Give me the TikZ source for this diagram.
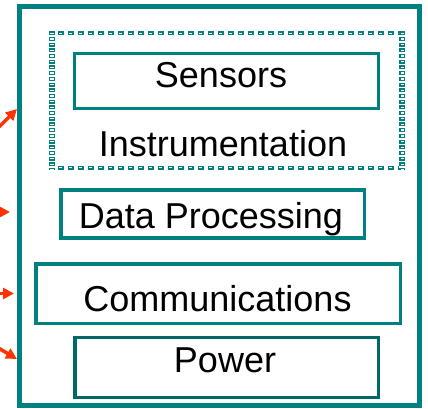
\documentclass[tikz,border=0pt]{standalone}
\usepackage{fontspec}
\setmainfont{Liberation Sans}
\usetikzlibrary{arrows.meta}
\definecolor{tealc}{HTML}{008080}
\definecolor{tealdark}{HTML}{006868}
\definecolor{arrowred}{HTML}{FF3300}
\begin{document}
\begin{tikzpicture}[x=1pt,y=-1pt,
  box/.style={draw=tealc, line width=3.3pt, inner sep=0pt},
  lbl/.style={inner sep=0pt, anchor=base, font=\fontsize{36}{40}\selectfont},
  feed/.style={draw=arrowred, line width=3.5pt, -{Triangle[length=11pt,width=11pt]}},
  hdashout/.style={draw=tealc, line width=4pt, dash pattern=on 6pt off 4pt},
  hdashin/.style={draw=white, line width=1.4pt, dash pattern=on 3.4pt off 6.6pt},
  vdashout/.style={draw=tealc, line width=6pt, dash pattern=on 4pt off 1.7pt},
  vdashin/.style={draw=white, line width=3.4pt, dash pattern=on 1.4pt off 4.3pt}]
\useasboundingbox (0,0) rectangle (428,409);
% outer frame
\node[draw=tealc, line width=5pt, minimum width=400pt, minimum height=399.2pt, inner sep=0pt] (outer) at (219.5,205.9) {};
% instrumentation group (dotted frame)
\node[inner sep=0pt, minimum width=350pt, minimum height=134pt] (instr) at (227,100.4) {};
\draw[vdashout] (52,31.3) -- (52,170);
\draw[vdashin] (52,32.6) -- (52,170);
\draw[vdashout] (402.3,31.3) -- (402.3,170);
\draw[vdashin] (402.3,32.6) -- (402.3,170);
\draw[hdashout] (57.7,33.3) -- (399,33.3);
\draw[hdashin] (59,33.3) -- (399,33.3);
\draw[hdashout] (57.7,167.5) -- (399,167.5);
\draw[hdashin] (59,167.5) -- (399,167.5);
% boxes
\node[box, minimum width=304pt, minimum height=55pt] (sensors) at (226.5,81) {};
\node[box, minimum width=303.5pt, minimum height=48pt] (dataproc) at (212.75,214) {};
\node[box, minimum width=364.5pt, minimum height=59.5pt] (comms) at (218.25,293.75) {};
\node[box, draw=tealdark, minimum width=303.5pt, minimum height=59.5pt] (power) at (226.75,367.5) {};
% labels
\node[lbl] (tsensors) at (221,87.5) {Sensors};
\node[lbl] (tinstr) at (223,156) {Instrumentation};
\node[lbl] (tdata) at (211,228) {Data Processing};
\node[lbl] (tcomms) at (217.5,311) {Communications};
\node[lbl] (tpower) at (225,372) {Power};
% incoming arrows
\coordinate (s1) at (-5,131);
\coordinate (e1) at (17,109);
\coordinate (s2) at (-8,212);
\coordinate (e2) at (10,212);
\coordinate (s3) at (-6,293.5);
\coordinate (e3) at (14,293.5);
\coordinate (s4) at (-5,346);
\coordinate (e4) at (17,359);
\draw[feed] (s1) -- (e1);
\draw[feed] (s2) -- (e2);
\draw[feed] (s3) -- (e3);
\draw[feed] (s4) -- (e4);
\end{tikzpicture}
\end{document}
